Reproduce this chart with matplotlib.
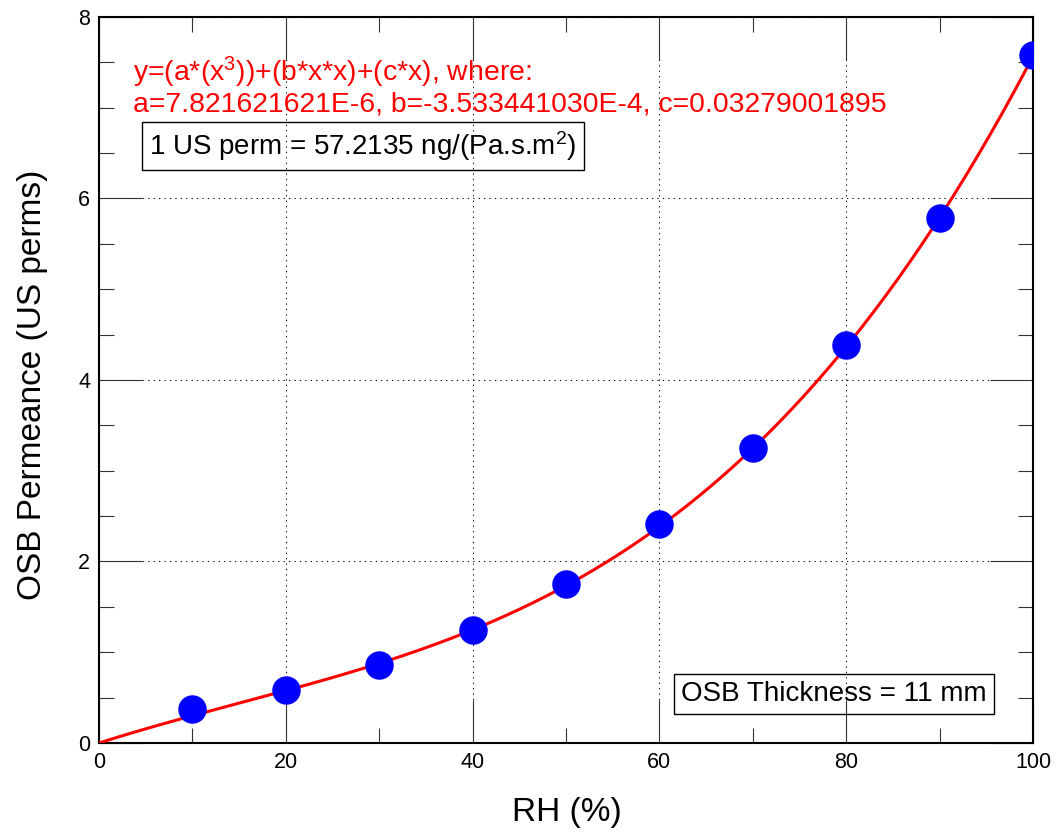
import numpy as np
import matplotlib
matplotlib.use("Agg")
from matplotlib import pyplot as plt
from matplotlib.ticker import MultipleLocator

plt.rcParams['font.family'] = ['Liberation Sans', 'DejaVu Sans']
plt.rcParams['mathtext.default'] = 'regular'

# measured points
rh = [10, 20, 30, 40, 50, 60, 70, 80, 90, 100]
perm = [0.37, 0.58, 0.86, 1.24, 1.75, 2.41, 3.25, 4.38, 5.79, 7.58]

# fit coefficients printed on the chart
a = 7.821621621E-6
b = -3.533441030E-4
c = 0.03279001895

fig = plt.figure(figsize=(10.58, 8.4), dpi=100)
ax = fig.add_axes([0.0936, 0.1155, 0.8828, 0.8643])

xx = np.linspace(0, 100, 400)
ax.plot(xx, a*xx**3 + b*xx**2 + c*xx, color='#ff0000', lw=2.2, zorder=3)
ax.plot(rh, perm, 'o', color='#0000ff', ms=20.5, mec='none', zorder=4)

ax.set_xlim(0, 100)
ax.set_ylim(0, 8)
ax.xaxis.set_major_locator(MultipleLocator(20))
ax.xaxis.set_minor_locator(MultipleLocator(10))
ax.yaxis.set_major_locator(MultipleLocator(2))
ax.yaxis.set_minor_locator(MultipleLocator(0.5))
ax.tick_params(which='both', direction='in', top=True, right=True,
               width=0.8, color='#333333', labelsize=15.5, pad=6.5)
ax.tick_params(which='major', length=31)
ax.tick_params(which='minor', length=11)
ax.grid(which='major', color='black', lw=0.75, linestyle=(0, (1.2, 4)))
for s in ax.spines.values():
    s.set_linewidth(1.5)

ax.set_xlabel('RH (%)', fontsize=24)
ax.set_ylabel('OSB Permeance (US perms)', fontsize=24)
ax.xaxis.set_label_coords(0.501, -0.074)
ax.yaxis.set_label_coords(-0.0546, 0.494)

ax.text(0.0364, 0.9109, 'y=(a*(x$^3$))+(b*x*x)+(c*x), where:', color='#ff0000',
        fontsize=20.4, transform=ax.transAxes, va='baseline')
ax.text(0.0364, 0.8696, 'a=7.821621621E-6, b=-3.533441030E-4, c=0.03279001895',
        color='#ff0000', fontsize=20.4, transform=ax.transAxes, va='baseline')

box = dict(boxstyle='square,pad=0.25', fc='none', ec='black', lw=1)
ax.text(0.2827, 0.8223, '1 US perm = 57.2135 ng/(Pa.s.m$^2$)', fontsize=20,
        transform=ax.transAxes, ha='center', va='center', bbox=box)
ax.text(0.787, 0.0675, 'OSB Thickness = 11 mm', fontsize=20,
        transform=ax.transAxes, ha='center', va='center', bbox=box)

fig.savefig('out.png', dpi=100)
